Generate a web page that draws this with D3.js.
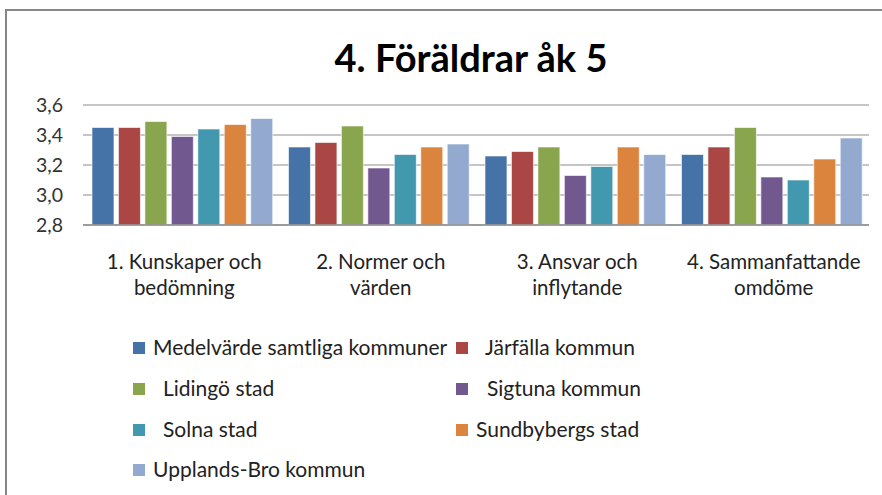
<!DOCTYPE html>
<html><head><meta charset="utf-8">
<script src="https://cdn.jsdelivr.net/npm/d3@7"></script>
<style>body{margin:0;background:#fff}svg{display:block}</style>
</head><body>
<script>
const title = "4. Föräldrar åk 5";
const categories = [["1. Kunskaper och","bedömning"],["2. Normer och","värden"],["3. Ansvar och","inflytande"],["4. Sammanfattande","omdöme"]];
const seriesNames = ["Medelvärde samtliga kommuner","Järfälla kommun","Lidingö stad","Sigtuna kommun","Solna stad","Sundbybergs stad","Upplands-Bro kommun"];
const colors = ["#4572A7","#AA4643","#89A54E","#71588F","#4198AF","#DB843D","#93A9CF"];
const medel = [3.45,3.32,3.26,3.27];
const jarfalla = [3.45,3.35,3.29,3.32];
const lidingo = [3.49,3.46,3.32,3.45];
const sigtuna = [3.39,3.18,3.13,3.12];
const solna = [3.44,3.27,3.19,3.10];
const sundbyberg = [3.47,3.32,3.32,3.24];
const upplandsbro = [3.51,3.34,3.27,3.38];
const seriesValues = [medel,jarfalla,lidingo,sigtuna,solna,sundbyberg,upplandsbro];
const yTicks = [2.8,3.0,3.2,3.4,3.6];

(function(){
const W=882,H=495;
const font = "Lato, 'Open Sans', sans-serif";
const svg = d3.select("body").append("svg").attr("width",W).attr("height",H);
svg.append("rect").attr("x",6).attr("y",10).attr("width",940).attr("height",520)
  .attr("fill","#fff").attr("stroke","#868686").attr("stroke-width",2);

svg.append("text").attr("x",471).attr("y",72).attr("text-anchor","middle")
  .attr("font-family",font).attr("font-weight","bold").attr("font-size",38).attr("fill","#000").text(title);

const pl=83,pr=869,pt=105,pb=225;
const y = d3.scaleLinear().domain([2.8,3.6]).range([pb,pt]);
const x0 = d3.scaleBand().domain(d3.range(categories.length)).range([pl,pr]).padding(0);
const x1 = d3.scaleBand().domain(d3.range(seriesNames.length)).range([9,189.7]).paddingInner(0.17).paddingOuter(0);

svg.append("g").selectAll("line").data(yTicks).join("line")
  .attr("x1",pl).attr("x2",pr).attr("y1",d=>y(d)).attr("y2",d=>y(d))
  .attr("stroke","#8c8c8c").attr("stroke-width",1);

const yAxis = d3.axisLeft(y).tickValues(yTicks).tickSize(0).tickPadding(0)
  .tickFormat(d=>d3.format(".1f")(d).replace(".",","));
const ya = svg.append("g").attr("transform",`translate(63,0)`).call(yAxis);
ya.select(".domain").remove();
ya.selectAll("text").attr("font-family",font).attr("font-size",19.5).attr("fill","#333").attr("dy","0.35em");

const g = svg.append("g");
categories.forEach((c,ci)=>{
  seriesValues.forEach((vals,si)=>{
    g.append("rect")
      .attr("x",x0(ci)+x1(si)).attr("width",x1.bandwidth())
      .attr("y",y(vals[ci])).attr("height",y(2.8)-y(vals[ci]))
      .attr("fill",colors[si]).attr("stroke","#fff").attr("stroke-opacity",0.6).attr("stroke-width",1);
  });
});

svg.append("line").attr("x1",pl).attr("x2",pr).attr("y1",y(2.8)).attr("y2",y(2.8))
  .attr("stroke","#8c8c8c").attr("stroke-width",1.5);

categories.forEach((c,ci)=>{
  const t = svg.append("text").attr("text-anchor","middle").attr("font-family",font)
    .attr("font-size",20.5).attr("fill","#222");
  c.forEach((line,li)=>{
    t.append("tspan").attr("x",x0(ci)+x0.bandwidth()/2+3).attr("y",269+li*26).text(line);
  });
});

const legPos = [[133,348],[456,348],[133,389],[456,389],[133,430],[456,430],[133,470]];
const textX = [153,485,163,487,163,476,153];
seriesNames.forEach((s,i)=>{
  const [lx,ly]=legPos[i];
  svg.append("rect").attr("x",lx).attr("y",ly-6).attr("width",12).attr("height",12).attr("fill",colors[i]);
  svg.append("text").attr("x",textX[i]).attr("y",ly).attr("dy","0.35em")
    .attr("font-family",font).attr("font-size",21).attr("fill","#222").text(s);
});
})();
</script>
</body></html>
